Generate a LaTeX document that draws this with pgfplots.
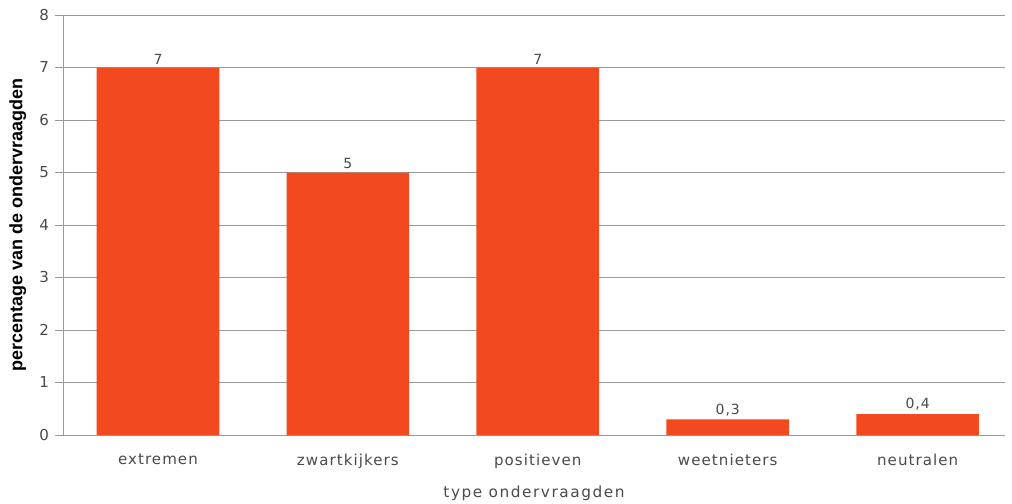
\documentclass[border=0pt]{standalone}
\usepackage{pgfplots}
\pgfplotsset{compat=1.18}
\usepackage{fontspec}
\setmainfont{DejaVu Sans}
\newfontfamily\spaced[LetterSpace=7]{DejaVu Sans}
\newfontfamily\wide[LetterSpace=10]{DejaVu Sans}
\newfontfamily\ylfont{Liberation Sans}
\definecolor{barcol}{HTML}{F24A1E}
\definecolor{gridcol}{HTML}{9A9A9A}
\definecolor{txtcol}{HTML}{4A4A4A}
\begin{document}
\begin{tikzpicture}
\useasboundingbox (-47.25pt,-51pt) rectangle (711.75pt,326.25pt);
\begin{axis}[
  scale only axis,
  width=706.5pt, height=315pt,
  xmin=-0.5, xmax=4.46,
  ymin=0, ymax=8,
  ytick={0,...,8},
  xtick=data,
  xticklabels={extremen,zwartkijkers,positieven,weetnieters,neutralen},
  axis lines*=left,
  axis line style={gridcol, line width=0.6pt},
  ymajorgrids,
  grid style={gridcol, line width=0.6pt},
  ytick style={gridcol, line width=0.6pt},
  xtick style={draw=none},
  tick align=outside,
  major tick length=6pt,
  tick label style={font=\spaced\fontsize{11.3}{13}\selectfont, text=txtcol},
  /pgf/number format/assume math mode=true,
  /pgf/number format/use comma,
  ylabel={\bfseries percentage van de ondervraagden},
  ylabel style={font=\ylfont\fontsize{13.5}{15}\selectfont, text=black, anchor=center, at={(axis description cs:-0.048,0.5)}},
  xlabel={type ondervraagden},
  xlabel style={font=\wide\fontsize{11.5}{13}\selectfont, text=txtcol, anchor=center, at={(axis description cs:0.5,-0.138)}},
  yticklabel style={xshift=-1pt},
  xticklabel style={yshift=-5pt},
  ybar, bar width=92pt,
  nodes near coords,
  every node near coord/.append style={font=\spaced\fontsize{10.5}{12}\selectfont, text=txtcol, /pgf/number format/use comma, yshift=-1pt},
  clip=false,
]
\addplot[fill=barcol, draw=none] coordinates {(0,7) (1,5) (2,7) (3,0.3) (4,0.4)};
\end{axis}
\end{tikzpicture}
\end{document}
